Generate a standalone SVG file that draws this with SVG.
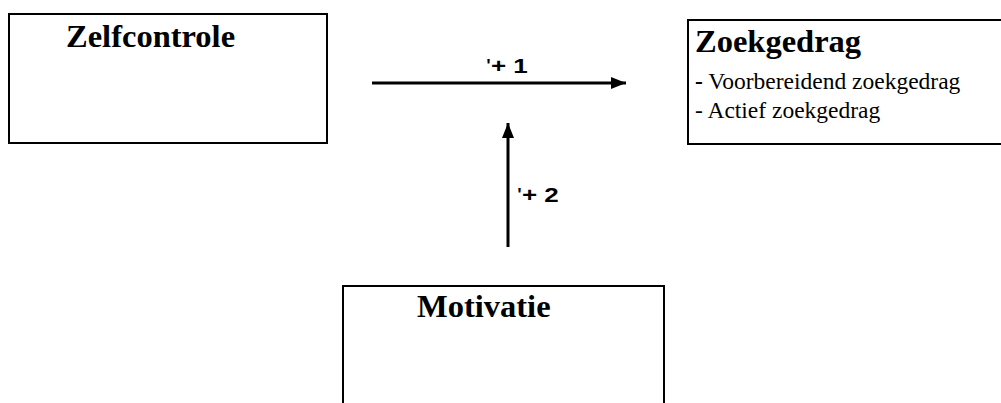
<svg xmlns="http://www.w3.org/2000/svg" width="1001" height="403" viewBox="0 0 1001 403">
<defs>
<style>
.box{fill:#fff;stroke:#000;stroke-width:2}
.title{font-family:"Liberation Serif","Times New Roman",serif;font-weight:bold;font-size:32.5px;fill:#000}
.item{font-family:"Liberation Serif","Times New Roman",serif;font-size:23.5px;fill:#000}
.lbl{font-family:"Liberation Sans",Arial,sans-serif;font-weight:bold;font-size:20px;fill:#000}
.conn{stroke:#000;stroke-width:3;fill:none}
</style>
<marker id="ah" markerWidth="5" markerHeight="4" refX="5" refY="2" orient="auto" markerUnits="strokeWidth">
<path d="M0,0 L5,2 L0,4 Z" fill="#000"/>
</marker>
</defs>
<rect width="1001" height="403" fill="#fff"/>
<g id="zelfcontrole">
<rect class="box" x="9" y="14" width="318" height="129"/>
<text class="title" x="66" y="47">Zelfcontrole</text>
</g>
<g id="zoekgedrag">
<rect class="box" x="688" y="20" width="330" height="124"/>
<text class="title" x="695" y="52">Zoekgedrag</text>
<text class="item" x="695" y="89"><tspan font-weight="bold">-</tspan> Voorbereidend zoekgedrag</text>
<text class="item" x="695" y="118">- Actief zoekgedrag</text>
</g>
<g id="motivatie">
<rect class="box" x="343" y="286" width="321" height="130"/>
<text class="title" x="417" y="317">Motivatie</text>
</g>
<g id="connectors">
<line class="conn" x1="372" y1="83" x2="626" y2="83" marker-end="url(#ah)"/>
<text class="lbl" transform="translate(486 73) scale(1.3 1)"><tspan font-weight="normal">'</tspan>+ 1</text>
<line class="conn" x1="508" y1="247" x2="508" y2="123" marker-end="url(#ah)"/>
<text class="lbl" transform="translate(517 202) scale(1.3 1)"><tspan font-weight="normal">'</tspan>+ 2</text>
</g>
</svg>
